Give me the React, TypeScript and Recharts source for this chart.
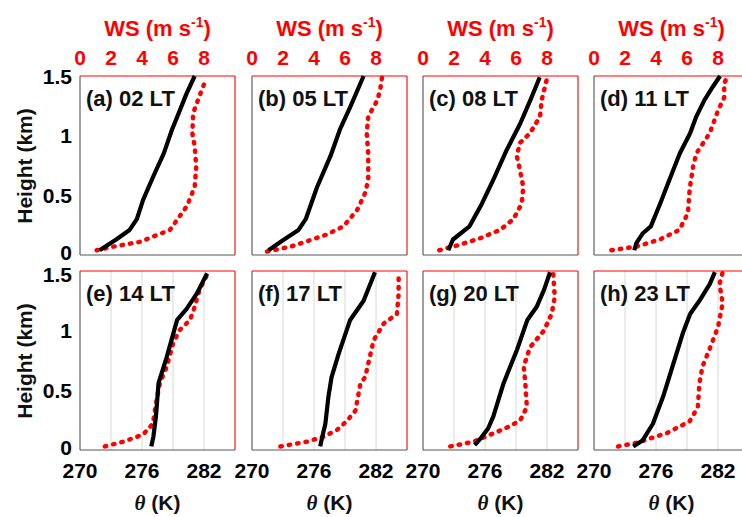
import { ScatterChart, Scatter, XAxis, YAxis, CartesianGrid, ReferenceLine } from 'recharts'

// profiles: [value, height km]; theta in K (bottom axis), WS in m/s (top axis)
const thetaA = [[271.9, 0.04], [273.5, 0.13], [274.8, 0.21], [275.5, 0.3], [276.1, 0.46], [277.1, 0.66], [278.1, 0.85], [278.9, 1.05], [279.7, 1.22], [280.3, 1.35], [281.1, 1.5]]
const wsA = [[1.07, 0.04], [2.15, 0.07], [3.86, 0.11], [5.8, 0.21], [6.9, 0.41], [7.4, 0.57], [7.5, 0.74], [7.4, 0.91], [7.25, 1.02], [7.3, 1.19], [7.7, 1.33], [8.15, 1.48]]
const thetaB = [[271.6, 0.04], [273.1, 0.13], [274.5, 0.21], [275.2, 0.3], [276.3, 0.57], [277.6, 0.83], [278.5, 1.05], [279.5, 1.24], [280.8, 1.5]]
const wsB = [[0.97, 0.03], [2.5, 0.07], [4.8, 0.17], [5.9, 0.24], [6.8, 0.38], [7.3, 0.52], [7.5, 0.63], [7.5, 0.85], [7.4, 1.02], [7.5, 1.16], [8.1, 1.3], [8.3, 1.41], [8.4, 1.5]]
const thetaC = [[272.45, 0.04], [272.9, 0.13], [274.5, 0.24], [275.7, 0.43], [276.8, 0.63], [278.1, 0.88], [279.4, 1.1], [280.4, 1.3], [281.3, 1.49]]
const wsC = [[1.05, 0.04], [2.2, 0.08], [3.68, 0.14], [4.97, 0.21], [5.83, 0.3], [6.37, 0.43], [6.47, 0.57], [6.26, 0.71], [6.05, 0.83], [6.26, 0.94], [6.9, 1.02], [7.55, 1.16], [7.66, 1.3], [7.98, 1.47]]
const thetaD = [[273.9, 0.04], [274.1, 0.1], [274.7, 0.18], [275.5, 0.24], [276.4, 0.43], [277.3, 0.63], [278.3, 0.85], [279.3, 1.02], [279.9, 1.16], [280.7, 1.3], [281.5, 1.41], [282.2, 1.5]]
const wsD = [[1.12, 0.04], [2.73, 0.07], [4.24, 0.13], [5.5, 0.21], [6.06, 0.35], [6.17, 0.55], [6.39, 0.74], [6.6, 0.85], [7.46, 1.02], [8.0, 1.21], [8.4, 1.32], [8.4, 1.44], [8.65, 1.5]]
const thetaE = [[276.9, 0.03], [277.1, 0.11], [277.35, 0.28], [277.6, 0.56], [278.4, 0.78], [279.4, 1.09], [280.3, 1.18], [281.3, 1.31], [282.3, 1.48]]
const wsE = [[1.6, 0.03], [2.8, 0.07], [4.08, 0.13], [4.7, 0.22], [4.9, 0.39], [5.15, 0.56], [5.6, 0.7], [6.0, 0.89], [6.4, 1.0], [7.1, 1.09], [7.4, 1.2], [7.7, 1.34], [8.25, 1.48]]
const thetaF = [[276.6, 0.03], [276.8, 0.11], [277.1, 0.22], [277.4, 0.45], [277.7, 0.61], [278.4, 0.81], [279.5, 1.09], [280.8, 1.25], [281.9, 1.49]]
const wsF = [[1.83, 0.03], [3.55, 0.07], [4.6, 0.11], [5.5, 0.17], [6.1, 0.24], [6.67, 0.33], [7.0, 0.56], [7.3, 0.61], [7.6, 0.78], [7.85, 0.92], [8.5, 1.06], [9.35, 1.14], [9.46, 1.31], [9.46, 1.48]]
const thetaG = [[275.0, 0.04], [275.6, 0.1], [276.3, 0.18], [276.8, 0.28], [277.8, 0.56], [279.1, 0.84], [280.1, 1.09], [281.0, 1.2], [281.7, 1.34], [282.3, 1.49]]
const wsG = [[1.76, 0.03], [3.27, 0.07], [4.55, 0.14], [5.63, 0.2], [6.28, 0.25], [6.7, 0.36], [6.6, 0.56], [6.5, 0.7], [6.9, 0.86], [7.8, 1.0], [8.3, 1.14], [8.5, 1.28], [8.4, 1.48]]
const thetaH = [[273.8, 0.03], [274.7, 0.08], [275.7, 0.22], [276.7, 0.45], [277.6, 0.7], [278.6, 0.98], [279.3, 1.14], [280.2, 1.25], [281.2, 1.39], [281.7, 1.49]]
const wsH = [[1.55, 0.03], [2.73, 0.06], [4.67, 0.14], [6.17, 0.24], [6.7, 0.36], [6.8, 0.56], [7.0, 0.7], [7.5, 0.86], [8.0, 1.03], [8.3, 1.23], [8.1, 1.39], [8.3, 1.49]]

const panelLabels = ['(a) 02 LT', '(b) 05 LT', '(c) 08 LT', '(d) 11 LT', '(e) 14 LT', '(f) 17 LT', '(g) 20 LT', '(h) 23 LT']
const thetaSeries = [thetaA, thetaB, thetaC, thetaD, thetaE, thetaF, thetaG, thetaH]
const wsSeries = [wsA, wsB, wsC, wsD, wsE, wsF, wsG, wsH]

const thetaTicks = [270, 273, 276, 279, 282, 285]
const wsTicks = [0, 2, 4, 6, 8, 10]
const heightTicks = [0, 0.5, 1, 1.5]

const FONT = '"Liberation Sans", Arial, sans-serif'
const RED = '#ff0000'
const AXIS = '#555'

// plot-area placement
const X0 = [80, 252, 423, 594]
const Y0 = [76, 271]
const PW = 155
const PH = 179
const ML = 60
const MR = 10
const MT = 40
const MB = 40

const toPts = (arr: number[][]) => arr.map(([x, y]) => ({ x, y }))
const noDot = () => <g />

const tickStyle = { fontFamily: FONT, fontWeight: 700, fontSize: 21 }

// left tick labels; nudge the crowded ones apart like the original
const HeightTick = ({ x, y, payload, row }: any) => {
    let dy = 0
    if (payload.value === 0) dy = row === 0 ? -3 : -3
    if (row === 1 && payload.value === 1.5) dy = 3
    return (
        <text x={x} y={y + dy} dy="0.36em" textAnchor="end" fill="#000" style={tickStyle}>
            {String(payload.value)}
        </text>
    )
}

const Panel = ({ i }: { i: number }) => {
    const col = i % 4
    const row = Math.floor(i / 4)
    return (
        <div style={{ position: 'absolute', left: X0[col] - ML, top: Y0[row] - MT }}>
            <ScatterChart
                width={ML + PW + MR}
                height={MT + PH + MB}
                margin={{ top: 0, right: MR, bottom: 0, left: 0 }}
            >
                <CartesianGrid xAxisId="theta" horizontal={false} stroke="#d8d8d8" />
                <XAxis
                    xAxisId="ws"
                    orientation="top"
                    type="number"
                    dataKey="x"
                    domain={[0, 10]}
                    ticks={wsTicks}
                    height={MT}
                    tickLine={false}
                    tickSize={6}
                    tickMargin={5}
                    axisLine={{ stroke: RED }}
                    tick={row === 0 ? { ...tickStyle, fill: RED } : false}
                    tickFormatter={(v) => (v === 10 ? '' : String(v))}
                    interval={0}
                />
                <XAxis
                    xAxisId="theta"
                    orientation="bottom"
                    type="number"
                    dataKey="x"
                    domain={[270, 285]}
                    ticks={thetaTicks}
                    height={MB}
                    tickLine={false}
                    tickSize={6}
                    tickMargin={7}
                    axisLine={{ stroke: AXIS }}
                    tick={row === 1 ? { ...tickStyle, fill: '#000' } : false}
                    tickFormatter={(v) => (v % 6 === 0 ? String(v) : '')}
                    interval={0}
                />
                <YAxis
                    type="number"
                    dataKey="y"
                    domain={[0, 1.5]}
                    ticks={heightTicks}
                    width={ML}
                    tickLine={false}
                    tickSize={6}
                    tickMargin={2}
                    axisLine={{ stroke: AXIS }}
                    tick={col === 0 ? (props: any) => <HeightTick {...props} row={row} /> : false}
                    interval={0}
                />
                <ReferenceLine xAxisId="ws" x={10} stroke={RED} />
                <Scatter
                    xAxisId="ws"
                    data={toPts(wsSeries[i])}
                    fill={RED}
                    line={{ stroke: RED, strokeWidth: 4.5, strokeDasharray: '1.5 7', strokeLinecap: 'round' }}
                    lineType="joint"
                    shape={noDot}
                    isAnimationActive={false}
                />
                <Scatter
                    xAxisId="theta"
                    data={toPts(thetaSeries[i])}
                    fill="#000"
                    line={{ stroke: '#000', strokeWidth: 4.2, strokeLinejoin: 'round' }}
                    lineType="joint"
                    shape={noDot}
                    isAnimationActive={false}
                />
            </ScatterChart>
        </div>
    )
}

const textBase = {
    position: 'absolute' as const,
    fontFamily: FONT,
    fontWeight: 700,
    fontSize: 21,
    lineHeight: 1,
    whiteSpace: 'nowrap' as const,
}

export default function App() {
    return (
        <div style={{ position: 'absolute', left: 0, top: 0, width: 742, height: 517, overflow: 'hidden', background: '#fff' }}>
            {panelLabels.map((_, i) => (
                <Panel key={i} i={i} />
            ))}
            {panelLabels.map((label, i) => (
                <div
                    key={`lab-${i}`}
                    style={{ ...textBase, fontSize: 22, left: X0[i % 4] + 6, top: Y0[Math.floor(i / 4)] + 23, transform: 'translateY(-50%)', color: '#111' }}
                >
                    {label}
                </div>
            ))}
            {X0.map((x, c) => (
                <div key={`ws-${c}`} style={{ ...textBase, fontSize: 22, left: x + PW / 2, top: 29, transform: 'translate(-50%, -50%)', color: RED }}>
                    WS (m s<sup style={{ fontSize: 14, verticalAlign: 'top', position: 'relative', top: -3 }}>-1</sup>)
                </div>
            ))}
            {X0.map((x, c) => (
                <div key={`th-${c}`} style={{ ...textBase, left: x + PW / 2, top: 503, transform: 'translate(-50%, -50%)', color: '#111' }}>
                    <span style={{ fontFamily: '"Liberation Serif", serif', fontStyle: 'italic', fontWeight: 700 }}>θ</span> (K)
                </div>
            ))}
            {Y0.map((y, r) => (
                <div
                    key={`h-${r}`}
                    style={{ ...textBase, left: 24, top: y + PH / 2, transform: 'translate(-50%, -50%) rotate(-90deg)', color: '#111' }}
                >
                    Height (km)
                </div>
            ))}
        </div>
    )
}
